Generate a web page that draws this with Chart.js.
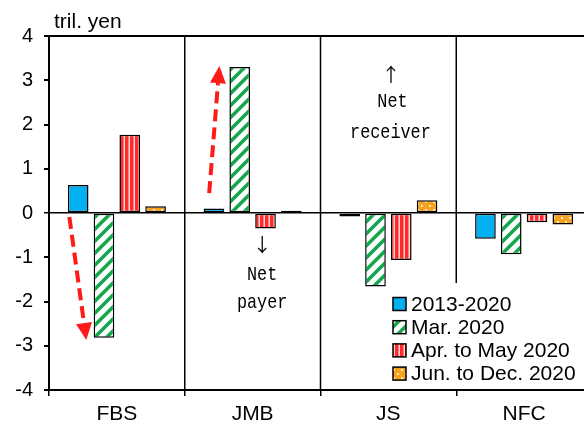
<!DOCTYPE html>
<html>
<head>
<meta charset="utf-8">
<script src="https://cdn.jsdelivr.net/npm/chart.js@4.4.0/dist/chart.umd.min.js"></script>
<style>
html, body { margin: 0; padding: 0; background: #fff; overflow: hidden; }
</style>
</head>
<body>
<canvas id="grafico" width="592" height="425"></canvas>
<script>
// Dados do gráfico
const categorias = ['FBS', 'JMB', 'JS', 'NFC'];
const nomesSeries = ['2013-2020', 'Mar. 2020', 'Apr. to May 2020', 'Jun. to Dec. 2020'];
const valores2013 = [0.63, 0.10, -0.08, -0.58];
const valoresMar = [-2.82, 3.30, -1.66, -0.93];
const valoresAbrMai = [1.77, -0.35, -1.06, -0.21];
const valoresJunDez = [0.15, 0.05, 0.29, -0.26];
const ticksY = [4, 3, 2, 1, 0, -1, -2, -3, -4];
const unidade = 'tril. yen';

const fonte = '"Liberation Sans", Arial, sans-serif';
const fonteMono = '"Liberation Mono", "DejaVu Sans Mono", monospace';
const fonteSeta = '"Noto Sans CJK JP", "DejaVu Sans", sans-serif';

// Padrões de preenchimento
function criarPadrao(tipo) {
    const c = document.createElement('canvas');
    const g = c.getContext('2d');
    if (tipo === 'diagonal') {
        c.width = 12; c.height = 12;
        g.fillStyle = '#fff'; g.fillRect(0, 0, 12, 12);
        g.strokeStyle = '#12A84B'; g.lineWidth = 3.5;
        g.beginPath();
        g.moveTo(-3, 15); g.lineTo(15, -3);
        g.moveTo(-3, 3); g.lineTo(3, -3);
        g.moveTo(9, 15); g.lineTo(15, 9);
        g.stroke();
    } else if (tipo === 'vertical') {
        c.width = 5; c.height = 4;
        g.fillStyle = '#FF2A2A'; g.fillRect(0, 0, 5, 4);
        g.fillStyle = '#FFD6D6'; g.fillRect(3.5, 0, 1.5, 4);
    } else if (tipo === 'pontos') {
        c.width = 8; c.height = 8;
        g.fillStyle = '#F7A21E'; g.fillRect(0, 0, 8, 8);
        g.fillStyle = '#FFE9C0';
        g.fillRect(1, 1, 2, 2);
        g.fillRect(5, 5, 2, 2);
    }
    return g.createPattern(c, 'repeat');
}

const preenchimentos = ['#00B0F0', criarPadrao('diagonal'), criarPadrao('vertical'), criarPadrao('pontos')];
const listaValores = [valores2013, valoresMar, valoresAbrMai, valoresJunDez];

const datasets = nomesSeries.map(function(nome, i) {
    return {
        label: nome,
        data: listaValores[i],
        backgroundColor: preenchimentos[i],
        borderColor: '#000',
        borderWidth: 1.5,
        borderSkipped: false,
        categoryPercentage: 0.76,
        barPercentage: 0.8
    };
});

// Seta tracejada vermelha
function desenharSeta(ctx, x1, y1, x2, y2) {
    const dx = x2 - x1, dy = y2 - y1;
    const len = Math.sqrt(dx * dx + dy * dy);
    const ux = dx / len, uy = dy / len;
    const cab = 17, larg = 8;
    const bx = x2 - ux * cab, by = y2 - uy * cab;
    ctx.save();
    ctx.strokeStyle = '#FF1A1A';
    ctx.fillStyle = '#FF1A1A';
    ctx.lineWidth = 4;
    ctx.setLineDash([12, 6]);
    ctx.beginPath();
    ctx.moveTo(x1, y1);
    ctx.lineTo(bx, by);
    ctx.stroke();
    ctx.setLineDash([]);
    ctx.beginPath();
    ctx.moveTo(x2, y2);
    ctx.lineTo(bx - uy * larg, by + ux * larg);
    ctx.lineTo(bx + uy * larg, by - ux * larg);
    ctx.closePath();
    ctx.fill();
    ctx.restore();
}

// Texto monoespaçado estreitado (parecido com fonte gótica)
function textoEstreito(ctx, txt, cx, cy) {
    ctx.save();
    ctx.translate(cx, cy);
    ctx.scale(0.8, 1);
    ctx.fillText(txt, 0, 0);
    ctx.restore();
}

const pluginExtras = {
    id: 'extras',
    beforeDatasetsDraw: function(chart) {
        const ctx = chart.ctx;
        const x = chart.scales.x, y = chart.scales.y;
        const area = chart.chartArea;
        // Divisórias entre categorias
        ctx.save();
        ctx.strokeStyle = '#000';
        ctx.lineWidth = 1.5;
        for (let i = 0; i < categorias.length - 1; i++) {
            const px = (x.getPixelForValue(i) + x.getPixelForValue(i + 1)) / 2;
            const fim = (i === categorias.length - 2) ? y.getPixelForValue(-1.58) : area.bottom;
            ctx.beginPath();
            ctx.moveTo(px, area.top);
            ctx.lineTo(px, fim);
            ctx.stroke();
        }
        ctx.restore();
    },
    afterDraw: function(chart) {
        const ctx = chart.ctx;
        const x = chart.scales.x, y = chart.scales.y;
        const larguraCat = x.getPixelForValue(1) - x.getPixelForValue(0);
        const px = function(i, frac) { return x.getPixelForValue(i) + frac * larguraCat; };

        ctx.save();
        // Unidade
        ctx.fillStyle = '#000';
        ctx.font = '21px ' + fonte;
        ctx.textAlign = 'left';
        ctx.textBaseline = 'alphabetic';
        ctx.fillText(unidade, 54, 28);

        // Textos "Net receiver" / "Net payer"
        ctx.textAlign = 'center';
        ctx.textBaseline = 'middle';
        ctx.font = '19px ' + fonteSeta;
        ctx.fillText('↑', px(2, 0.02), y.getPixelForValue(3.12));
        ctx.fillText('↓', px(1, 0.07), y.getPixelForValue(-0.72));
        ctx.font = '21px ' + fonteMono;
        textoEstreito(ctx, 'Net', px(2, 0.03), y.getPixelForValue(2.53));
        textoEstreito(ctx, 'receiver', px(2, 0.015), y.getPixelForValue(1.83));
        textoEstreito(ctx, 'Net', px(1, 0.07), y.getPixelForValue(-1.38));
        textoEstreito(ctx, 'payer', px(1, 0.07), y.getPixelForValue(-2.03));

        // Setas
        desenharSeta(ctx, px(0, -0.35), y.getPixelForValue(-0.09), px(0, -0.225), y.getPixelForValue(-2.87));
        desenharSeta(ctx, px(1, -0.32), y.getPixelForValue(0.45), px(1, -0.245), y.getPixelForValue(3.32));

        // Legenda
        const lx = 393, ly = 304, passo = 23.2;
        ctx.font = '21px ' + fonte;
        ctx.textAlign = 'left';
        ctx.textBaseline = 'middle';
        nomesSeries.forEach(function(nome, i) {
            const cy = ly + i * passo;
            ctx.fillStyle = preenchimentos[i];
            ctx.fillRect(lx, cy - 6.5, 13, 13);
            ctx.strokeStyle = '#000';
            ctx.lineWidth = 1.5;
            ctx.strokeRect(lx, cy - 6.5, 13, 13);
            ctx.fillStyle = '#000';
            ctx.fillText(nome, lx + 18, cy + 1);
        });
        ctx.restore();
    }
};

new Chart(document.getElementById('grafico'), {
    type: 'bar',
    data: { labels: categorias, datasets: datasets },
    options: {
        responsive: false,
        animation: false,
        events: [],
        layout: { padding: { top: 36, right: 0, left: 0, bottom: 0 } },
        plugins: { legend: { display: false }, tooltip: { enabled: false }, title: { display: false } },
        scales: {
            x: {
                grid: { drawOnChartArea: false, drawTicks: true, tickLength: 6, color: '#000', offset: true, lineWidth: 1.5 },
                border: { color: '#000', width: 2 },
                ticks: { color: '#000', font: { family: fonte, size: 21 }, padding: 6 },
                afterFit: function(s) { s.height = 35; }
            },
            y: {
                min: -4, max: 4,
                afterBuildTicks: function(s) { s.ticks = ticksY.map(function(v) { return { value: v }; }); },
                grid: {
                    color: function(c) { return (c.tick && [4, 0, -4].indexOf(c.tick.value) >= 0) ? '#000' : 'rgba(0,0,0,0)'; },
                    lineWidth: function(c) { return (c.tick && c.tick.value === 0) ? 1.5 : 2; },
                    tickColor: '#000',
                    tickLength: 5,
                    drawTicks: true
                },
                border: { color: '#000', width: 2 },
                ticks: { color: '#000', font: { family: fonte, size: 20 }, padding: 11 },
                afterFit: function(s) { s.width = 49; }
            }
        }
    },
    plugins: [pluginExtras]
});
</script>
</body>
</html>
